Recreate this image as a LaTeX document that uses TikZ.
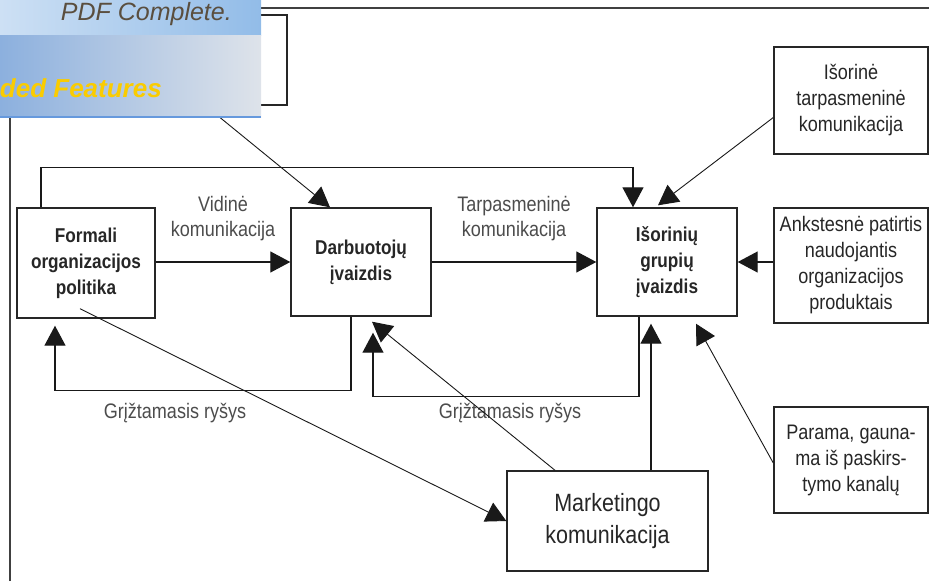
\documentclass[tikz,border=0pt]{standalone}
\usepackage{fontspec}
\setmainfont[FakeStretch=0.86]{Liberation Sans}
\newfontfamily\bannerfont{Liberation Sans}
\usetikzlibrary{arrows.meta}
\definecolor{bannerlight}{RGB}{205,224,244}
\definecolor{bannermid}{RGB}{146,188,232}
\definecolor{bannerblue}{RGB}{140,176,222}
\definecolor{bannergray}{RGB}{222,227,234}
\definecolor{bannerline}{RGB}{102,153,221}
\definecolor{bannertext}{RGB}{90,78,62}
\definecolor{banneryellow}{RGB}{250,204,0}

\begin{document}
\begin{tikzpicture}[x=1pt, y=-1pt,
    box/.style={draw=black!85, line width=1.4pt, inner sep=0pt, align=center,
      text=black!85, font=\fontsize{21}{26}\selectfont},
    boldbox/.style={box, font=\fontsize{20}{26}\selectfont\bfseries},
    lbl/.style={align=center, text=black!70, font=\fontsize{21}{25}\selectfont},
    arr/.style={line width=1.3pt, draw=black!90, -{Triangle[length=20pt, width=21pt]}},
    diag/.style={arr, line width=0.9pt}]
  \useasboundingbox (0,0) rectangle (929,581);

  % frame round the figure
  \draw[line width=1.4pt, black!75] (10,581) -- (10,8) -- (929,8);

  % boxes
  \node[boldbox, minimum width=138pt, minimum height=110pt] (formali) at (86,263)
    {Formali\\organizacijos\\politika};
  \node[boldbox, minimum width=140pt, minimum height=108pt] (darb) at (361,262)
    {Darbuotojų\\įvaizdis};
  \node[boldbox, minimum width=140pt, minimum height=108pt] (isor) at (667,262)
    {Išorinių\\grupių\\įvaizdis};
  \node[box, minimum width=154pt, minimum height=107pt] (isortarp) at (851,100.5)
    {Išorinė\\tarpasmeninė\\komunikacija};
  \node[box, minimum width=154pt, minimum height=115pt] (ankst) at (851,265.5)
    {Ankstesnė patirtis\\naudojantis\\organizacijos\\produktais};
  \node[box, minimum width=154pt, minimum height=106pt] (parama) at (851,460)
    {Parama, gauna-\\ma iš paskirs-\\tymo kanalų};
  \node[box, minimum width=201pt, minimum height=100pt,
    font=\fontsize{25}{32}\selectfont] (market) at (607.5,521)
    {Marketingo\\komunikacija};
  \node[box, minimum width=187pt, minimum height=90pt] (topbox) at (193.5,60) {};

  % main flow
  \draw[arr] (formali.east |- darb.west) -- (darb.west)
    node[lbl, midway, above=17pt] {Vidinė\\komunikacija};
  \draw[arr] (darb.east) -- (isor.west)
    node[lbl, midway, above=17pt] {Tarpasmeninė\\komunikacija};
  \draw[arr] (ankst.west |- isor.east) -- (isor.east);
  \draw[arr] ([xshift=-45pt]formali.north) -- ++(0,-40) -| ([xshift=-34pt]isor.north);

  % feedback
  \draw[arr, shorten >=7pt] ([xshift=-10pt]darb.south) -- ++(0,74) -| ([xshift=-31pt]formali.south);
  \draw[arr, shorten >=16pt] ([xshift=-28pt]isor.south) -- ++(0,80) -| ([xshift=12pt]darb.south);
  \node[lbl] (grizt1) at (175,413) {Grįžtamasis ryšys};
  \node[lbl] (grizt2) at (510,413) {Grįžtamasis ryšys};

  % marketing and outer sources
  \draw[arr, shorten >=7pt] ([xshift=43.5pt]market.north) -- ([xshift=43.5pt]market.north |- isor.south);
  \draw[diag] ([xshift=-52.5pt]market.north) -- ([xshift=11pt,yshift=-5pt]darb.south);
  \draw[diag] ([xshift=-6pt,yshift=10pt]formali.south) -- (market.west);
  \draw[diag] ([yshift=-3pt]parama.west) -- ([xshift=29pt,yshift=-7pt]isor.south);
  \draw[diag] ([yshift=-17pt]isortarp.west) -- ([xshift=-9pt,yshift=2pt]isor.north);
  \draw[diag] ([xshift=12pt]topbox.south) -- ([xshift=-31pt]darb.north);

  % banner over the top left corner
  \shade[left color=bannerlight, right color=bannermid] (0,0) rectangle (261,35);
  \shade[left color=bannerblue, right color=bannergray] (0,35) rectangle (261,117);
  \draw[line width=2pt, bannerline] (0,117) -- (261,117);
  \node[anchor=base east, inner sep=0pt, text=bannertext,
    font=\bannerfont\fontsize{25}{25}\selectfont\itshape] (pdfc) at (232,20) {PDF Complete.};
  \node[anchor=base east, inner sep=0pt, text=banneryellow,
    font=\bannerfont\fontsize{26}{26}\selectfont\bfseries\itshape] (feat) at (162,97) {ded Features};
\end{tikzpicture}
\end{document}
